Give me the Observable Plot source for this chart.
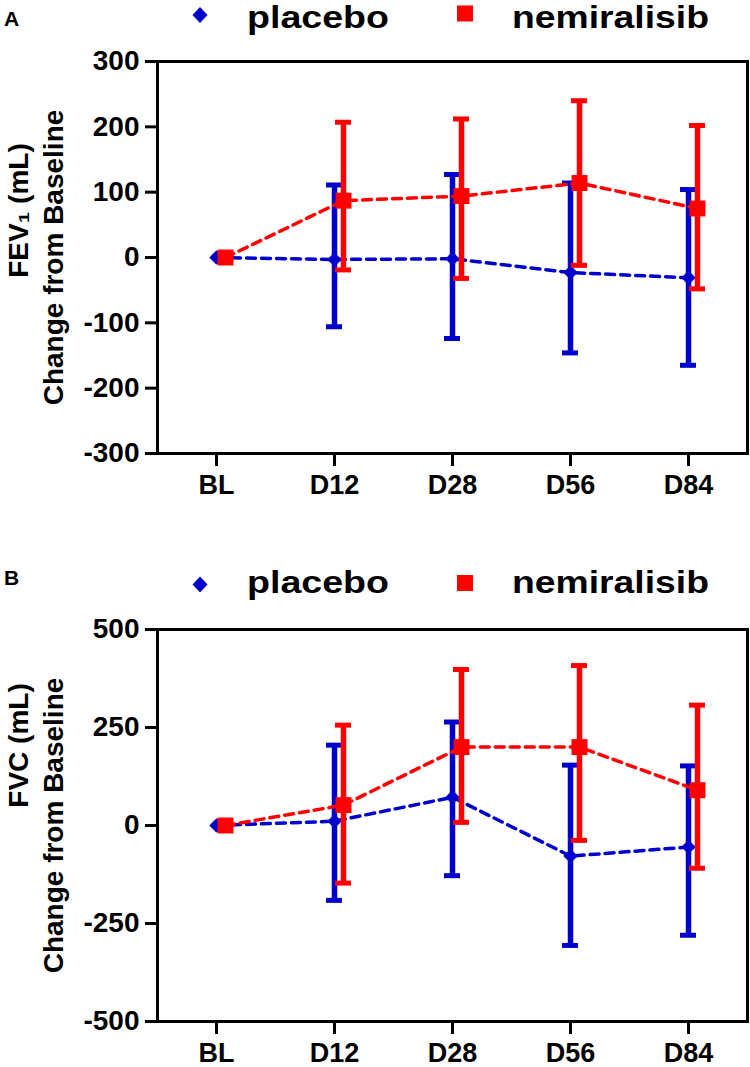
<!DOCTYPE html>
<html>
<head>
<meta charset="utf-8">
<script src="https://cdn.jsdelivr.net/npm/d3@7"></script>
<script src="https://cdn.jsdelivr.net/npm/@observablehq/plot@0.6"></script>
<style>
  body { margin: 0; background: #fff; font-family: "Liberation Sans", Arial, sans-serif; }
  .panel { position: relative; width: 750px; }
  .hdr { display: block; }
</style>
</head>
<body>
<div id="root"></div>
<script>
// ---- data ----
const timepoints = ["BL", "D12", "D28", "D56", "D84"];
const groups = ["placebo", "nemiralisib"];

// Panel A: FEV1 change from baseline (mL)
const placeboFev   = [0,   -3,   -2,  -23,  -31];
const placeboFevLo = [0, -106, -124, -146, -165];
const placeboFevHi = [0,  111,  127,  114,  104];
const nemiFev      = [0,   87,   94,  114,   75];
const nemiFevLo    = [0,  -19,  -32,  -12,  -48];
const nemiFevHi    = [0,  207,  212,  240,  202];
const fevTicks = [-300, -200, -100, 0, 100, 200, 300];

// Panel B: FVC change from baseline (mL)
const placeboFvc   = [0,   11,   72,  -78,  -55];
const placeboFvcLo = [0, -191, -128, -306, -280];
const placeboFvcHi = [0,  205,  264,  154,  152];
const nemiFvc      = [0,   52,  200,  200,   90];
const nemiFvcLo    = [0, -147,    8,  -38, -109];
const nemiFvcHi    = [0,  256,  398,  408,  307];
const fvcTicks = [-500, -250, 0, 250, 500];

// ---- style ----
const BLUE = "#0000CC";
const RED = "#FF0000";
const FONT = "'Liberation Sans', Arial, Helvetica, sans-serif";
const NS = "http://www.w3.org/2000/svg";

function rows(v, lo, hi) {
  return timepoints.map((t, i) => ({t, v: v[i], lo: lo[i], hi: hi[i], i}));
}

function header(o) {
  const svg = document.createElementNS(NS, "svg");
  svg.setAttribute("width", 750);
  svg.setAttribute("height", o.height);
  svg.setAttribute("class", "hdr");
  svg.innerHTML = `
    <text x="4" y="${o.letterY}" font-family="${FONT}" font-weight="bold" font-size="21">${o.letter}</text>
    <polygon points="200,${o.diaY - 8} 207.5,${o.diaY} 200,${o.diaY + 8} 192.5,${o.diaY}" fill="${BLUE}"/>
    <text x="247" y="${o.legY}" font-family="${FONT}" font-weight="bold" font-size="31" textLength="142" lengthAdjust="spacingAndGlyphs">${groups[0]}</text>
    <rect x="457" y="${o.sqY - 8}" width="16" height="16" fill="${RED}"/>
    <text x="512" y="${o.legY}" font-family="${FONT}" font-weight="bold" font-size="31" textLength="197" lengthAdjust="spacingAndGlyphs">${groups[1]}</text>`;
  return svg;
}

function panel(o) {
  const pl = rows(o.pv, o.plo, o.phi);
  const nm = rows(o.nv, o.nlo, o.nhi);
  const plBars = pl.filter(d => d.i > 0);
  const nmBars = nm.filter(d => d.i > 0);
  const H = o.height;
  const errMarks = (data, color, dx) => [
    Plot.ruleX(data, {x: "t", y1: "lo", y2: "hi", stroke: color, strokeWidth: 5.5, dx}),
    Plot.ruleY(data, {x1: "t", x2: "t", y: "hi", insetLeft: -8, insetRight: -8, stroke: color, strokeWidth: 5, dx}),
    Plot.ruleY(data, {x1: "t", x2: "t", y: "lo", insetLeft: -8, insetRight: -8, stroke: color, strokeWidth: 5, dx})
  ];
  return Plot.plot({
    width: 750,
    height: H,
    marginTop: 16,
    marginLeft: 157,
    marginRight: 3,
    marginBottom: H - 16 - 392,
    style: {fontFamily: FONT, fontSize: "28px", fontWeight: "bold", color: "black", background: "white"},
    x: {type: "point", domain: timepoints, padding: 0.5, label: null},
    y: {domain: o.domain, label: null},
    marks: [
      Plot.axisY({ticks: o.ticks, tickSize: 12, tickPadding: 6, tickFormat: d => String(d), strokeWidth: 3, label: null}),
      Plot.axisX({tickSize: 13, tickPadding: 8, fontSize: 27, strokeWidth: 3, label: null}),
      Plot.frame({strokeWidth: 3}),
      Plot.text([o.title1], {text: d => d, frameAnchor: "left", rotate: -90, dx: -138, dy: o.title1Dy, fontSize: 28, fontWeight: "bold", textAnchor: "middle", lineAnchor: "middle"}),
      Plot.text(["Change from Baseline"], {text: d => d, frameAnchor: "left", rotate: -90, dx: -103, dy: 0, fontSize: 28, fontWeight: "bold", textAnchor: "middle", lineAnchor: "middle"}),
      // placebo
      Plot.line(pl, {x: "t", y: "v", stroke: BLUE, strokeWidth: 3.5, strokeDasharray: "9,6"}),
      ...errMarks(plBars, BLUE, 0),
      Plot.dot(pl, {x: "t", y: "v", symbol: "diamond2", r: 6.5, fill: BLUE, stroke: "none"}),
      // nemiralisib
      Plot.line(nm, {x: "t", y: "v", stroke: RED, strokeWidth: 3.5, strokeDasharray: "9,6", dx: 9}),
      ...errMarks(nmBars, RED, 9),
      Plot.dot(nm, {x: "t", y: "v", symbol: "square", r: 9, fill: RED, stroke: "none", dx: 9})
    ]
  });
}

const root = document.getElementById("root");

const pA = document.createElement("div");
pA.className = "panel";
pA.appendChild(header({height: 45, letter: "A", letterY: 26, legY: 28, diaY: 15, sqY: 13.5}));
pA.appendChild(panel({
  height: 495, domain: [-300, 300], ticks: fevTicks, title1: "FEV₁ (mL)", title1Dy: -47,
  pv: placeboFev, plo: placeboFevLo, phi: placeboFevHi,
  nv: nemiFev, nlo: nemiFevLo, nhi: nemiFevHi
}));
root.appendChild(pA);

const pB = document.createElement("div");
pB.className = "panel";
pB.appendChild(header({height: 73, letter: "B", letterY: 45, legY: 53, diaY: 44.5, sqY: 43}));
pB.appendChild(panel({
  height: 454, domain: [-500, 500], ticks: fvcTicks, title1: "FVC (mL)", title1Dy: -80,
  pv: placeboFvc, plo: placeboFvcLo, phi: placeboFvcHi,
  nv: nemiFvc, nlo: nemiFvcLo, nhi: nemiFvcHi
}));
root.appendChild(pB);
</script>
</body>
</html>
